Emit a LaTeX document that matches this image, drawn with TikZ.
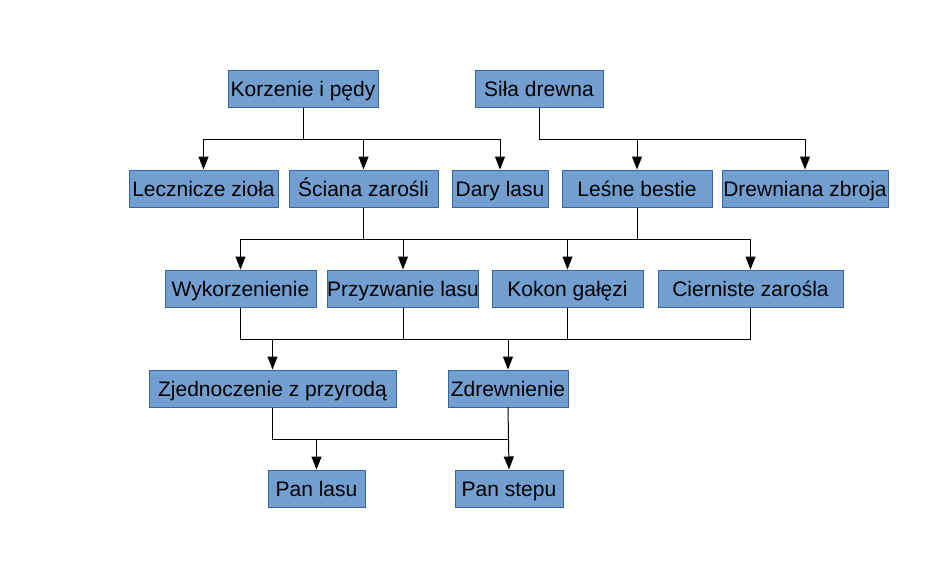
\documentclass[tikz,border=0pt]{standalone}
\usepackage{fontspec}
\setmainfont{Liberation Sans}
\usepackage{xcolor}
\usetikzlibrary{arrows.meta,calc}
\definecolor{boxfill}{HTML}{729FCF}
\definecolor{boxline}{HTML}{3465A4}
\tikzset{
  flow/.style={-{Triangle[length=13pt,width=10pt]}, line width=1pt, draw=black},
  link/.style={line width=1pt, draw=black},
  every node/.style={anchor=center}
}

\begin{document}
\begin{tikzpicture}[
    x=1pt, y=-1pt,
    font=\fontsize{21}{25}\selectfont,
    box/.style={draw=boxline, fill=boxfill, line width=1pt, minimum height=37, inner sep=0pt,
      text height=18pt, text depth=1.6pt, text=black}
  ]
  \useasboundingbox (0,0) rectangle (932,565);

  % top row
  \node[box, minimum width=150] (korzenie) at (303,88.5)   {Korzenie i pędy};
  \node[box, minimum width=128] (sila)     at (539,88.5)   {Siła drewna};

  % second row
  \node[box, minimum width=149] (lecznicze) at (203.5,188.5) {Lecznicze zioła};
  \node[box, minimum width=149] (sciana)    at (363.5,188.5) {Ściana zarośli};
  \node[box, minimum width=96]  (dary)      at (500,188.5)   {Dary lasu};
  \node[box, minimum width=150] (lesne)     at (637,188.5)   {Leśne bestie};
  \node[box, minimum width=166] (zbroja)    at (805,188.5)   {Drewniana zbroja};

  % third row
  \node[box, minimum width=151] (wykorz)  at (240.5,288.5) {Wykorzenienie};
  \node[box, minimum width=150] (przyzw)  at (403,288.5)   {Przyzwanie lasu};
  \node[box, minimum width=151] (kokon)   at (567.5,288.5) {Kokon gałęzi};
  \node[box, minimum width=185] (ciernie) at (750.5,288.5) {Cierniste zarośla};

  % fourth row
  \node[box, minimum width=247] (jednosc) at (272.5,388.5) {Zjednoczenie z przyrodą};
  \node[box, minimum width=120] (zdrew)   at (508,388.5)   {Zdrewnienie};

  % bottom row
  \node[box, minimum width=97]  (panlasu)  at (316.5,488.5) {Pan lasu};
  \node[box, minimum width=108] (panstepu) at (509,488.5)   {Pan stepu};

  % bus heights
  \coordinate (bus1) at (0,139);
  \coordinate (bus2) at (0,239);
  \coordinate (bus3) at (0,339);
  \coordinate (bus4) at (0,439);

  % first level
  \draw[flow] (korzenie.south) -- (korzenie.south |- bus1) -| (lecznicze.north);
  \draw[flow] (korzenie.south |- bus1) -| (dary.north);
  \draw[flow] (sciana.north |- bus1) -- (sciana.north);
  \draw[flow] (sila.south) -- (sila.south |- bus1) -| (zbroja.north);
  \draw[flow] (lesne.north |- bus1) -- (lesne.north);

  % second level
  \draw[link] (sciana.south) -- (sciana.south |- bus2);
  \draw[link] (lesne.south) -- (lesne.south |- bus2);
  \draw[flow] (sciana.south |- bus2) -| (wykorz.north);
  \draw[flow] (sciana.south |- bus2) -| (ciernie.north);
  \draw[flow] (przyzw.north |- bus2) -- (przyzw.north);
  \draw[flow] (kokon.north |- bus2) -- (kokon.north);

  % third level
  \draw[link] (wykorz.south) -- (wykorz.south |- bus3) -- (ciernie.south |- bus3) -- (ciernie.south);
  \draw[link] (przyzw.south) -- (przyzw.south |- bus3);
  \draw[link] (kokon.south) -- (kokon.south |- bus3);
  \draw[flow] (jednosc.north |- bus3) -- (jednosc.north);
  \draw[flow] (zdrew.north |- bus3) -- (zdrew.north);

  % last level
  \draw[link] (jednosc.south) -- (jednosc.south |- bus4) -- (zdrew.south |- bus4);
  \draw[flow] (zdrew.south) -- (panstepu.north);
  \draw[flow] (panlasu.north |- bus4) -- (panlasu.north);

\end{tikzpicture}
\end{document}
